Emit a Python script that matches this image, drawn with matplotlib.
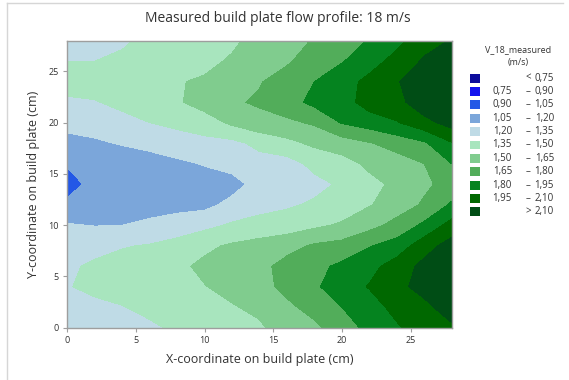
import numpy as np
import matplotlib.pyplot as plt
from matplotlib.lines import Line2D
from matplotlib.patches import Rectangle

plt.rcParams['font.family'] = ['Open Sans', 'DejaVu Sans']

# measurement grid on the build plate (cm)
x_cm = [0, 2, 4, 6, 8, 10, 12, 14, 16, 18, 20, 22, 24, 26, 28]
y_cm = [0, 2, 4, 6, 8, 10, 12, 14, 16, 18, 20, 22, 24, 26, 28]

# measured velocity (m/s), one list per x position, bottom (y=0) to top (y=28)
v_x0 = [1.27, 1.30, 1.345, 1.33, 1.28, 1.21, 1.10, 0.96, 1.07, 1.16, 1.24, 1.33, 1.40, 1.35, 1.30]
v_x2 = [1.30, 1.33, 1.37, 1.37, 1.31, 1.195, 1.14, 1.12, 1.13, 1.18, 1.26, 1.34, 1.42, 1.35, 1.31]
v_x4 = [1.31, 1.345, 1.40, 1.40, 1.34, 1.20, 1.12, 1.09, 1.12, 1.21, 1.30, 1.39, 1.44, 1.39, 1.32]
v_x6 = [1.33, 1.38, 1.42, 1.42, 1.36, 1.23, 1.14, 1.10, 1.14, 1.24, 1.35, 1.44, 1.47, 1.45, 1.40]
v_x8 = [1.37, 1.42, 1.46, 1.47, 1.40, 1.27, 1.15, 1.12, 1.17, 1.29, 1.38, 1.48, 1.49, 1.48, 1.46]
v_x10 = [1.42, 1.46, 1.495, 1.53, 1.47, 1.31, 1.16, 1.13, 1.21, 1.31, 1.42, 1.57, 1.52, 1.46, 1.45]
v_x12 = [1.45, 1.49, 1.54, 1.56, 1.52, 1.37, 1.24, 1.15, 1.25, 1.31, 1.53, 1.63, 1.60, 1.52, 1.47]
v_x14 = [1.48, 1.53, 1.60, 1.61, 1.55, 1.41, 1.29, 1.25, 1.29, 1.39, 1.60, 1.67, 1.64, 1.58, 1.56]
v_x16 = [1.57, 1.62, 1.69, 1.70, 1.60, 1.42, 1.33, 1.27, 1.29, 1.46, 1.62, 1.74, 1.72, 1.63, 1.60]
v_x18 = [1.62, 1.70, 1.78, 1.76, 1.67, 1.47, 1.37, 1.31, 1.39, 1.53, 1.67, 1.84, 1.80, 1.73, 1.66]
v_x20 = [1.73, 1.80, 1.87, 1.83, 1.70, 1.52, 1.41, 1.37, 1.44, 1.58, 1.81, 1.88, 1.89, 1.79, 1.72]
v_x22 = [1.84, 1.88, 1.96, 1.90, 1.79, 1.60, 1.49, 1.46, 1.53, 1.64, 1.87, 2.02, 1.99, 1.89, 1.81]
v_x24 = [1.93, 2.00, 2.07, 2.02, 1.86, 1.70, 1.57, 1.53, 1.58, 1.71, 1.94, 2.05, 2.09, 2.00, 1.91]
v_x26 = [2.03, 2.07, 2.14, 2.14, 2.04, 1.83, 1.67, 1.62, 1.65, 1.78, 2.05, 2.20, 2.18, 2.12, 2.04]
v_x28 = [2.08, 2.16, 2.22, 2.22, 2.16, 2.01, 1.82, 1.71, 1.80, 1.94, 2.16, 2.24, 2.26, 2.22, 2.11]

# contour class edges and colours (lowest to highest)
edges = [0.75, 0.90, 1.05, 1.20, 1.35, 1.50, 1.65, 1.80, 1.95, 2.10]
band_colors = ['#0c0c9c', '#1414ee', '#2358e6', '#7ba6da', '#bfdbe6', '#a8e5be',
               '#80cc8e', '#52ad5a', '#05831f', '#006800', '#004d15']

V = np.array([v_x0, v_x2, v_x4, v_x6, v_x8, v_x10, v_x12, v_x14,
              v_x16, v_x18, v_x20, v_x22, v_x24, v_x26, v_x28]).T

W, H = 569, 380
fig = plt.figure(figsize=(W / 100, H / 100), dpi=100)
ax = fig.add_axes([67.3 / W, 1 - 327.7 / H, 384.4 / W, 287 / H])

levels = [0.0] + edges + [5.0]
ax.contourf(x_cm, y_cm, V, levels=levels, colors=band_colors)

ax.set_xlim(0, 28)
ax.set_ylim(0, 28)
ax.set_xticks([0, 5, 10, 15, 20, 25])
ax.set_yticks([0, 5, 10, 15, 20, 25])
for s in ax.spines.values():
    s.set_color('#9e9e9e')
    s.set_linewidth(1.0)
ax.tick_params(length=3, width=0.8, color='#9e9e9e', labelsize=6.5,
               labelcolor='#333333', pad=3)

txt = '#333333'
ax.set_xlabel('X-coordinate on build plate (cm)', fontsize=9, color=txt, labelpad=6)
ax.set_ylabel('Y-coordinate on build plate (cm)', fontsize=9, color=txt, labelpad=6)
fig.text(0.488, 1 - 18 / H, 'Measured build plate flow profile: 18 m/s',
         ha='center', va='center', fontsize=10, color=txt)

# legend drawn by hand, Minitab style
fig.text(518 / W, 1 - 50 / H, 'V_18_measured', ha='center', va='center', fontsize=6.5, color=txt)
fig.text(518 / W, 1 - 62 / H, '(m/s)', ha='center', va='center', fontsize=6.5, color=txt)


def fmt(v):
    return f'{v:.2f}'.replace('.', ',')


rows = [('', '<', fmt(edges[0]))]
for lo, hi in zip(edges[:-1], edges[1:]):
    rows.append((fmt(lo), '–', fmt(hi)))
rows.append(('', '>', fmt(edges[-1])))

for i, (a, sep, b) in enumerate(rows):
    yp = 1 - (78 + i * 13.4) / H
    fig.add_artist(Rectangle((470 / W, yp - 4.5 / H), 10 / W, 9 / H,
                             facecolor=band_colors[i], edgecolor='none',
                             transform=fig.transFigure))
    if a:
        fig.text(512 / W, yp, a, ha='right', va='center', fontsize=7, color=txt)
    fig.text(528 / W, yp, sep, ha='center', va='center', fontsize=7, color=txt)
    fig.text(554 / W, yp, b, ha='right', va='center', fontsize=7, color=txt)

# panel border
fig.add_artist(Line2D([7 / W, 7 / W], [0, 1 - 3 / H], color='#d6d6d6', lw=1))
fig.add_artist(Line2D([7 / W, 563 / W], [1 - 3 / H, 1 - 3 / H], color='#d6d6d6', lw=1))

fig.savefig('out.png', dpi=100)
